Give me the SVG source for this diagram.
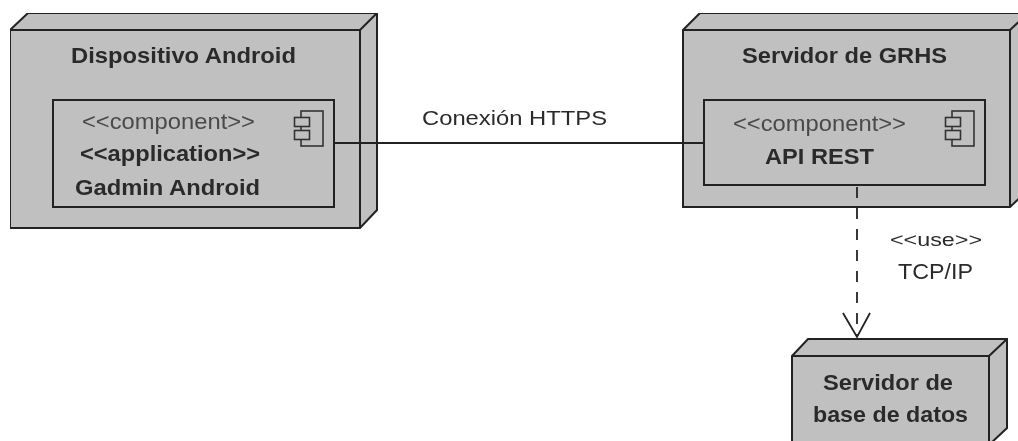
<svg xmlns="http://www.w3.org/2000/svg" width="1018" height="441" viewBox="0 0 1018 441">
<style>
.n{fill:#c0c0c0;stroke:#222;stroke-width:2;stroke-linejoin:miter}
.f{fill:none;stroke:#222;stroke-width:2}
.i{fill:#c0c0c0;stroke:#333;stroke-width:1.6}
text{font-family:"Liberation Sans",Arial,sans-serif;fill:#2b2b2b}
.b{font-weight:700;font-size:22px}
.r{font-size:22px;fill:#4a4a4a}
.c{stroke:#222;stroke-width:1.8;fill:none}
</style>
<defs><filter id="soft" x="0" y="0" width="100%" height="100%"><feGaussianBlur stdDeviation="0.45"/></filter></defs>
<rect width="1018" height="441" fill="#fff"/>
<g filter="url(#soft)">
<g id="node-android">
<path class="n" d="M10 30L28 13H377V210L360 228H10Z"/>
<path class="f" d="M10 30H360V228M360 30L377 13"/>
<text class="b" x="71" y="63" textLength="225" lengthAdjust="spacingAndGlyphs">Dispositivo Android</text>
<rect class="f" x="53" y="100" width="281" height="107"/>
<text class="r" x="82" y="129" textLength="173" lengthAdjust="spacingAndGlyphs">&lt;&lt;component&gt;&gt;</text>
<text class="b" x="80" y="161" textLength="180" lengthAdjust="spacingAndGlyphs">&lt;&lt;application&gt;&gt;</text>
<text class="b" x="75" y="195" textLength="185" lengthAdjust="spacingAndGlyphs">Gadmin Android</text>
<rect class="i" x="301" y="111" width="22" height="35"/>
<rect class="i" x="294.500" y="117.500" width="15" height="9"/>
<rect class="i" x="294.500" y="130.500" width="15" height="9"/>
</g>
<g id="node-grhs">
<path class="n" d="M683 30L700 13H1028V190L1010 207H683Z"/>
<path class="f" d="M683 30H1010V207M1010 30L1028 13"/>
<text class="b" x="742" y="63" textLength="205" lengthAdjust="spacingAndGlyphs">Servidor de GRHS</text>
<rect class="f" x="704" y="100" width="281" height="85"/>
<text class="r" x="733" y="131" textLength="173" lengthAdjust="spacingAndGlyphs">&lt;&lt;component&gt;&gt;</text>
<text class="b" x="765" y="164" textLength="109" lengthAdjust="spacingAndGlyphs">API REST</text>
<rect class="i" x="952" y="111" width="22" height="35"/>
<rect class="i" x="945.500" y="117.500" width="15" height="9"/>
<rect class="i" x="945.500" y="130.500" width="15" height="9"/>
</g>
<g id="node-db">
<path class="n" d="M792 356L808 339H1007V428L989 445H792Z"/>
<path class="f" d="M792 356H989V445M989 356L1007 339"/>
<text class="b" x="823" y="390" textLength="130" lengthAdjust="spacingAndGlyphs">Servidor de</text>
<text class="b" x="813" y="422" textLength="155" lengthAdjust="spacingAndGlyphs">base de datos</text>
</g>
<g id="connectors">
<path class="c" d="M334 143H704"/>
<path class="c" d="M857 187V337" stroke-dasharray="11 10"/>
<path class="c" d="M843 313L857 337L870 313"/>
<text x="422" y="125" font-size="21" textLength="185" lengthAdjust="spacingAndGlyphs" fill="#333">Conexión HTTPS</text>
<text x="890" y="246" font-size="19" textLength="92" lengthAdjust="spacingAndGlyphs" fill="#444">&lt;&lt;use&gt;&gt;</text>
<text x="898" y="279" font-size="22" textLength="75" lengthAdjust="spacingAndGlyphs" fill="#333">TCP/IP</text>
</g>
</g>
</svg>
